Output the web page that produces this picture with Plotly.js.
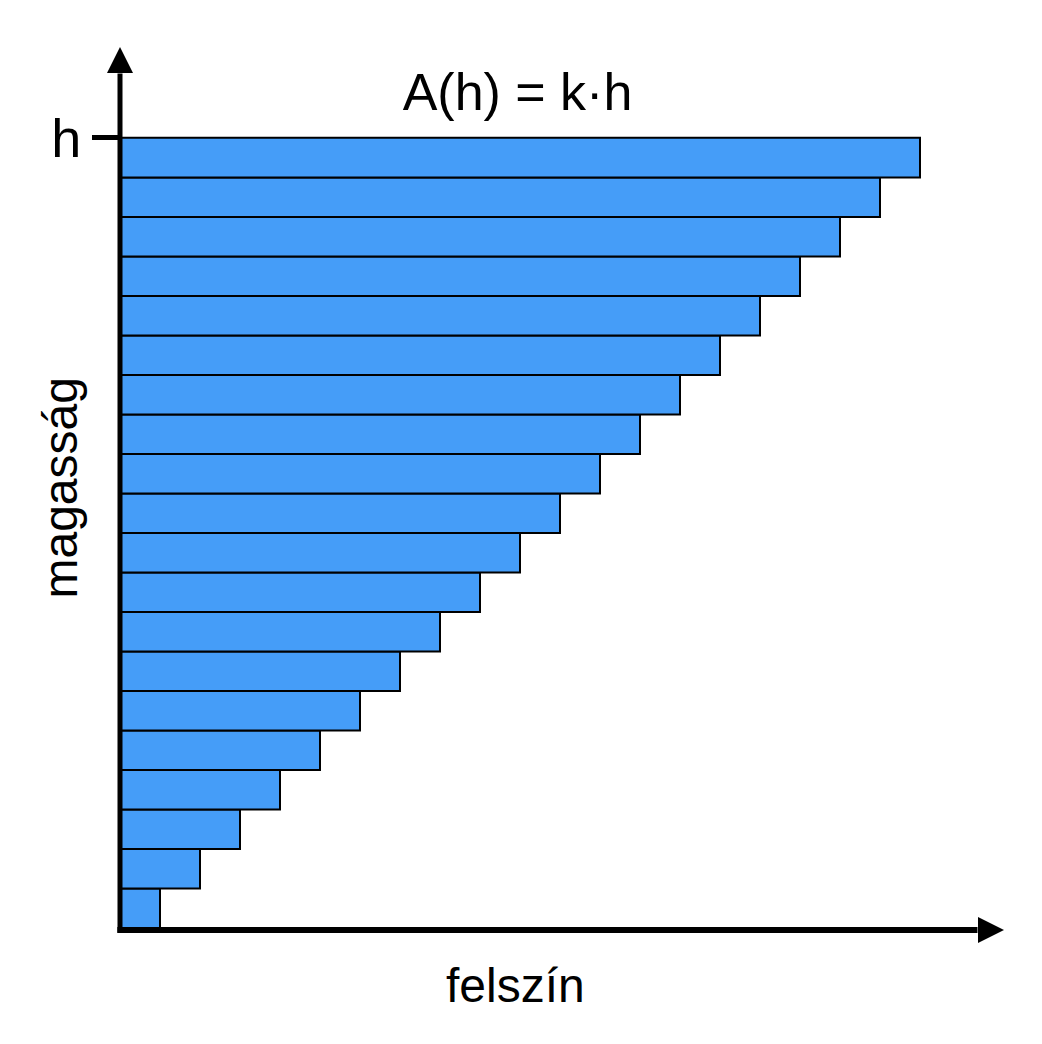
<!DOCTYPE html>
<html>
<head>
<meta charset="utf-8">
<script src="https://cdn.plot.ly/plotly-3.0.1.min.js"></script>
<style>html,body{margin:0;padding:0;background:#fff;}#chart{width:1042px;height:1044px;}</style>
</head>
<body>
<div id="chart"></div>
<script>
// Layer index (1 = bottom layer, 20 = top layer at height h)
const layers = [1,2,3,4,5,6,7,8,9,10,11,12,13,14,15,16,17,18,19,20];
// Surface area of each layer (proportional to height: A(h) = k·h)
const areas = [1,2,3,4,5,6,7,8,9,10,11,12,13,14,15,16,17,18,19,20];
const yTickVals = [20.5];
const yTickText = ['h'];
const titleText = 'A(h) = k·h';
const xLabel = 'felszín';
const yLabel = 'magasság';

const narrow = '"Liberation Sans Narrow", "Liberation Sans", Arial, sans-serif';
const sans = '"Liberation Sans", Arial, Helvetica, sans-serif';

const trace = {
  type: 'bar',
  orientation: 'h',
  x: areas,
  y: layers,
  width: 1,
  marker: {color: '#459df8', line: {color: '#000', width: 2}},
  hoverinfo: 'none'
};

const layout = {
  width: 1042, height: 1044,
  margin: {l: 120, r: 38, t: 47, b: 114, pad: 0},
  paper_bgcolor: '#fff', plot_bgcolor: '#fff',
  showlegend: false,
  bargap: 0,
  title: {
    text: titleText,
    font: {family: narrow, size: 52, color: '#000'},
    xref: 'container', x: 517.5/1042, xanchor: 'center',
    yref: 'container', y: 1 - 92/1044, yanchor: 'middle'
  },
  xaxis: {
    range: [0, 22.1], showgrid: false, zeroline: false, showline: false,
    showticklabels: false, ticks: '', fixedrange: true
  },
  yaxis: {
    range: [0.45, 22.8], showgrid: false, zeroline: false, showline: false,
    tickmode: 'array', tickvals: yTickVals, ticktext: yTickText,
    ticks: 'outside', ticklen: 27, tickwidth: 5, tickcolor: '#000',
    tickfont: {family: narrow, size: 54, color: '#000'},
    fixedrange: true
  },
  shapes: [
    // y axis line
    {type: 'line', xref: 'paper', yref: 'paper', x0: 0, x1: 0, y0: -0.003, y1: 0.97,
     line: {color: '#000', width: 5}},
    // x axis line
    {type: 'line', xref: 'paper', yref: 'paper', x0: -0.003, x1: 0.97, y0: 0, y1: 0,
     line: {color: '#000', width: 6}},
    // x arrow head
    {type: 'path', xref: 'paper', yref: 'paper', xsizemode: 'pixel', ysizemode: 'pixel',
     xanchor: 1, yanchor: 0, path: 'M -26,-13 L 0,0 L -26,13 Z',
     fillcolor: '#000', line: {color: '#000', width: 0}},
    // y arrow head
    {type: 'path', xref: 'paper', yref: 'paper', xsizemode: 'pixel', ysizemode: 'pixel',
     xanchor: 0, yanchor: 1, path: 'M -13,-26 L 0,0 L 13,-26 Z',
     fillcolor: '#000', line: {color: '#000', width: 0}}
  ],
  annotations: [
    {text: xLabel, xref: 'paper', yref: 'paper', x: (515.5-120)/884, y: -(985-930)/883,
     xanchor: 'center', yanchor: 'middle', showarrow: false,
     font: {family: sans, size: 48, color: '#000'}},
    {text: yLabel, xref: 'paper', yref: 'paper', x: (60-120)/884, y: (930-488.5)/883,
     xanchor: 'center', yanchor: 'middle', showarrow: false, textangle: -90,
     font: {family: sans, size: 48, color: '#000'}}
  ]
};

Plotly.newPlot('chart', [trace], layout, {displayModeBar: false, staticPlot: true});
</script>
</body>
</html>
